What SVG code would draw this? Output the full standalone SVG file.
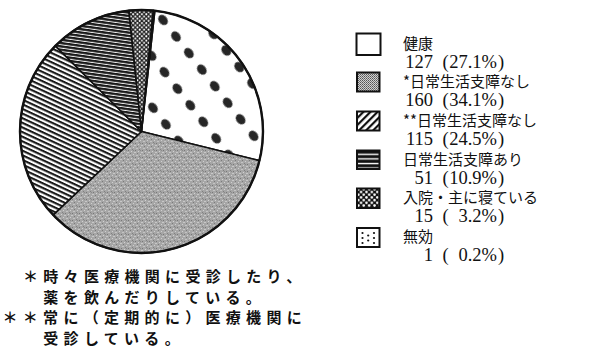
<svg xmlns="http://www.w3.org/2000/svg" width="601" height="350" viewBox="0 0 601 350">
<style>
.slice{stroke:#111;stroke-width:1.6;stroke-linejoin:round}
.jp{font-family:"Noto Sans CJK JP","Noto Sans",sans-serif;font-size:15px;fill:#111}
.num{font-family:"Liberation Serif","Noto Sans CJK JP",serif;font-size:18.5px;fill:#111}
.note{font-family:"Noto Sans CJK JP",sans-serif;font-size:15px;font-weight:bold;letter-spacing:5.3px;fill:#111}
.box{stroke:#111;stroke-width:2}
</style>
<defs>
<pattern id="pHealth" width="21" height="31" patternUnits="userSpaceOnUse" patternTransform="translate(163,20) rotate(52) translate(-10.5,-15.5)">
<rect width="21" height="31" fill="#fff"/>
<ellipse cx="10.5" cy="15.5" rx="5.6" ry="4.2" fill="#262626"/>
</pattern>
<pattern id="pGray" width="7" height="7" patternUnits="userSpaceOnUse">
<rect width="7" height="7" fill="#a6a6a6"/>
<rect x="0" y="0" width="1" height="1" fill="#cfcfcf"/>
<rect x="3" y="1" width="2" height="1" fill="#c4c4c4"/>
<rect x="5" y="4" width="1" height="1" fill="#d2d2d2"/>
<rect x="1" y="5" width="2" height="1" fill="#c8c8c8"/>
<rect x="2" y="3" width="1" height="1" fill="#777"/>
<rect x="6" y="2" width="1" height="1" fill="#808080"/>
<rect x="4" y="6" width="1" height="1" fill="#7a7a7a"/>
<rect x="0" y="3" width="1" height="1" fill="#8a8a8a"/>
</pattern>
<pattern id="pStripe" width="10" height="4.2" patternUnits="userSpaceOnUse" patternTransform="rotate(25)">
<rect width="10" height="4.2" fill="#fff"/>
<rect y="0" width="10" height="2.1" fill="#1a1a1a"/>
</pattern>
<pattern id="pDark" width="10" height="3.3" patternUnits="userSpaceOnUse" patternTransform="rotate(8)">
<rect width="10" height="3.3" fill="#f4f4f4"/>
<rect y="0" width="10" height="2.3" fill="#1a1a1a"/>
</pattern>
<pattern id="pCheck" width="4.4" height="4.4" patternUnits="userSpaceOnUse">
<rect width="4.4" height="4.4" fill="#222"/>
<circle cx="1.1" cy="1.1" r="1" fill="#fff"/>
<circle cx="3.3" cy="3.3" r="1" fill="#fff"/>
</pattern>
<pattern id="pLegDiag" width="5" height="5" patternUnits="userSpaceOnUse" patternTransform="rotate(-45)">
<rect width="5" height="5" fill="#fff"/>
<rect width="5" height="2.2" fill="#111"/>
</pattern>
<pattern id="pLegHoriz" width="10" height="4.6" patternUnits="userSpaceOnUse" patternTransform="translate(0,151)">
<rect width="10" height="4.6" fill="#111"/>
<rect y="2.6" width="10" height="1.4" fill="#fff"/>
</pattern>
<pattern id="pLegCirc" width="5.4" height="5.4" patternUnits="userSpaceOnUse" patternTransform="translate(357,188)">
<rect width="5.4" height="5.4" fill="#111"/>
<circle cx="1.35" cy="1.35" r="1.3" fill="#fff"/>
<circle cx="4.05" cy="4.05" r="1.3" fill="#fff"/>
</pattern>
<pattern id="pLegGray" width="2" height="2" patternUnits="userSpaceOnUse">
<rect width="2" height="2" fill="#d0d0d0"/>
<rect width="1" height="1" fill="#555"/>
<rect x="1" y="1" width="1" height="1" fill="#777"/>
</pattern>
</defs>

<g id="pie">
<path id="slice-health" class="slice" fill="url(#pHealth)" d="M141.5,131.5 L154.83,10.73 A121.5,121.5 0 0 1 259.46,160.61 Z"/>
<path id="slice-nashi1" class="slice" fill="url(#pGray)" d="M141.5,131.5 L259.46,160.61 A121.5,121.5 0 0 1 53.18,214.94 Z"/>
<path id="slice-nashi2" class="slice" fill="url(#pStripe)" d="M141.5,131.5 L53.18,214.94 A121.5,121.5 0 0 1 55.32,45.86 Z"/>
<path id="slice-ari" class="slice" fill="url(#pDark)" d="M141.5,131.5 L55.32,45.86 A121.5,121.5 0 0 1 128.93,10.65 Z"/>
<path id="slice-nyuin" class="slice" fill="url(#pCheck)" d="M141.5,131.5 L128.93,10.65 A121.5,121.5 0 0 1 153.31,10.58 Z"/>
<path id="slice-muko" class="slice" fill="#fff" d="M141.5,131.5 L153.31,10.58 A121.5,121.5 0 0 1 154.83,10.73 Z"/>
<circle cx="141.5" cy="131.5" r="121.5" fill="none" stroke="#111" stroke-width="2.4"/>
</g>

<g id="legend-health">
<rect class="box" x="356.5" y="33.5" width="24" height="21.5" fill="#fff" stroke-width="3"/>
<text class="jp" x="403" y="48.5">健康</text>
<text class="num" y="67.5"><tspan x="433" text-anchor="end">127</tspan><tspan x="442.5">(</tspan><tspan x="497" text-anchor="end">27.1%</tspan><tspan x="498">)</tspan></text>
</g>
<g id="legend-nashi1">
<rect class="box" x="357" y="72.5" width="22.5" height="19" fill="url(#pLegGray)"/>
<text class="jp" x="403" y="87.2">*日常生活支障なし</text>
<text class="num" y="106.2"><tspan x="433" text-anchor="end">160</tspan><tspan x="442.5">(</tspan><tspan x="497" text-anchor="end">34.1%</tspan><tspan x="498">)</tspan></text>
</g>
<g id="legend-nashi2">
<rect class="box" x="357" y="111.5" width="22.5" height="19" fill="url(#pLegDiag)"/>
<text class="jp" x="403" y="125.9">**日常生活支障なし</text>
<text class="num" y="144.9"><tspan x="433" text-anchor="end">115</tspan><tspan x="442.5">(</tspan><tspan x="497" text-anchor="end">24.5%</tspan><tspan x="498">)</tspan></text>
</g>
<g id="legend-ari">
<rect class="box" x="357" y="150.5" width="22.5" height="18.5" fill="url(#pLegHoriz)"/>
<text class="jp" x="403" y="164.6">日常生活支障あり</text>
<text class="num" y="183.6"><tspan x="433" text-anchor="end">51</tspan><tspan x="442.5">(</tspan><tspan x="497" text-anchor="end">10.9%</tspan><tspan x="498">)</tspan></text>
</g>
<g id="legend-nyuin">
<rect class="box" x="357" y="188.5" width="22.5" height="19.5" fill="url(#pLegCirc)"/>
<text class="jp" x="403" y="203.3">入院・主に寝ている</text>
<text class="num" y="222.3"><tspan x="433" text-anchor="end">15</tspan><tspan x="442.5">(</tspan><tspan x="497" text-anchor="end">3.2%</tspan><tspan x="498">)</tspan></text>
</g>
<g id="legend-muko">
<rect class="box" x="357" y="228" width="22.5" height="19" fill="#fff"/>
<g fill="#111">
<circle cx="362.5" cy="233" r="1.1"/><circle cx="362.5" cy="238" r="1.1"/><circle cx="362.5" cy="243" r="1.1"/>
<circle cx="374" cy="233" r="1.1"/><circle cx="374" cy="238" r="1.1"/><circle cx="374" cy="243" r="1.1"/>
<circle cx="368.2" cy="235.5" r="1.1"/><circle cx="368.2" cy="240.5" r="1.1"/>
</g>
<text class="jp" x="403" y="242">無効</text>
<text class="num" y="261"><tspan x="433" text-anchor="end">1</tspan><tspan x="442.5">(</tspan><tspan x="497" text-anchor="end">0.2%</tspan><tspan x="498">)</tspan></text>
</g>

<g id="footnote">
<text class="note" x="23" y="282">＊時々医療機関に受診したり、</text>
<text class="note" x="43.3" y="302.5">薬を飲んだりしている。</text>
<text class="note" x="2.5" y="323">＊＊常に（定期的に）医療機関に</text>
<text class="note" x="43.3" y="344">受診している。</text>
</g>
</svg>
